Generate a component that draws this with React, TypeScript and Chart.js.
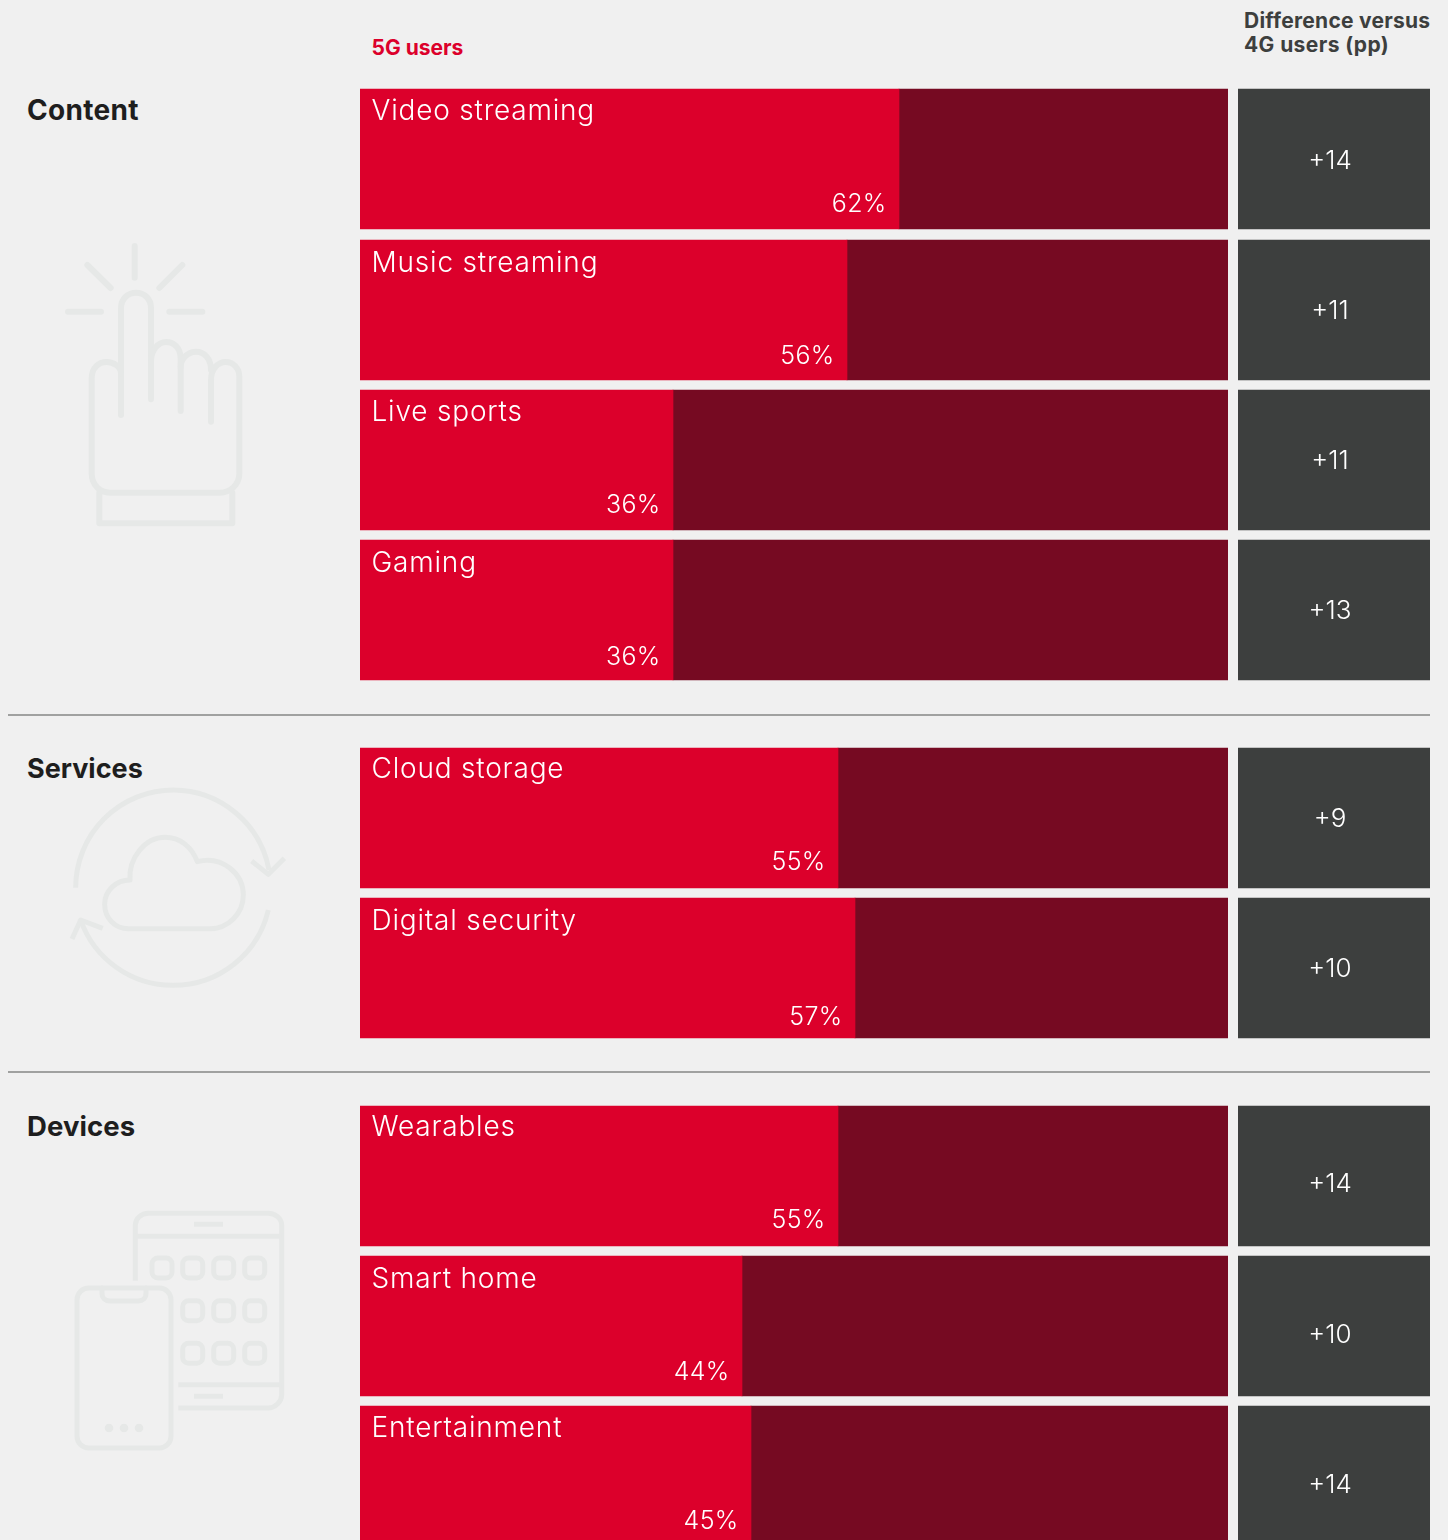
import React, { useEffect, useRef } from "react";
import { Chart, registerables } from "chart.js";

Chart.register(...registerables);

const contentCategories = ["Video streaming", "Music streaming", "Live sports", "Gaming"];
const contentShare = [62, 56, 36, 36];
const contentDiff = [14, 11, 11, 13];

const servicesCategories = ["Cloud storage", "Digital security"];
const servicesShare = [55, 57];
const servicesDiff = [9, 10];

const devicesCategories = ["Wearables", "Smart home", "Entertainment"];
const devicesShare = [55, 44, 45];
const devicesDiff = [14, 10, 14];

const RED = "#dc002b";
const DARK = "#760a22";
const GREY = "#3d3f3e";
const ICON = "#e6e8e7";
const BG = "#f0f0f0";
const FONT = "Inter, sans-serif";

// Small per-row text offsets (label styling only)
const contentNudge = { name: [0, 1, 0, 1], pct: [0, 1, 0, 2], diff: [0, -1, -1, -1] };
const servicesNudge = { name: [-1, 1], pct: [-1, 4], diff: [-1, -1] };
const devicesNudge = { name: [-1, 1, 0], pct: [-1, 1, 0], diff: [6, 7, 7] };

const snapBars = {
  id: "snapBars",
  afterDatasetsUpdate(chart: any) {
    chart.data.datasets.forEach((_: any, d: number) => {
      chart.getDatasetMeta(d).data.forEach((bar: any) => {
        bar.x = Math.round(bar.x);
        bar.base = Math.round(bar.base);
        bar.y = Math.round(bar.y);
      });
    });
  },
};

const shareLabels = {
  id: "shareLabels",
  afterDatasetsDraw(chart: any) {
    const { ctx } = chart;
    const nudge = chart.options.plugins.shareLabels.nudge;
    const bars = chart.getDatasetMeta(0).data;
    ctx.save();
    ctx.fillStyle = "#ffffff";
    bars.forEach((bar: any, i: number) => {
      const top = bar.y - 70;
      ctx.textAlign = "left";
      ctx.font = `300 28px ${FONT}`;
      (ctx as any).letterSpacing = "0.8px";
      ctx.fillText(chart.data.labels[i], 11.5, top + 31 + nudge.name[i]);
      ctx.textAlign = "right";
      ctx.font = `300 25px ${FONT}`;
      (ctx as any).letterSpacing = "0.3px";
      ctx.fillText(`${chart.data.datasets[0].data[i]}%`, bar.x - 12.5, top + 123 + nudge.pct[i]);
    });
    ctx.restore();
  },
};

const diffLabels = {
  id: "diffLabels",
  afterDatasetsDraw(chart: any) {
    const { ctx } = chart;
    const bars = chart.getDatasetMeta(0).data;
    const { values, nudge } = chart.options.plugins.diffLabels;
    ctx.save();
    ctx.fillStyle = "#ffffff";
    ctx.textAlign = "center";
    ctx.font = `300 26px ${FONT}`;
    bars.forEach((bar: any, i: number) => {
      ctx.fillText(`+${values[i]}`, bar.x / 2 - 4, bar.y + 10 + nudge[i]);
    });
    ctx.restore();
  },
};

function baseOptions(max: number, padTop: number, padBottom: number): any {
  return {
    indexAxis: "y",
    animation: false,
    responsive: false,
    maintainAspectRatio: false,
    layout: { padding: { top: padTop, bottom: padBottom, left: 0, right: 0 } },
    plugins: { legend: { display: false }, tooltip: { enabled: false } },
    scales: {
      x: { display: false, stacked: true, min: 0, max, grid: { display: false } },
      y: { display: false, stacked: true, grid: { display: false } },
    },
  };
}

function Section({ top, height, padTop = 0, padBottom = 0, categories, share, diff, nudge }: any) {
  const barRef = useRef<HTMLCanvasElement>(null);
  const diffRef = useRef<HTMLCanvasElement>(null);
  useEffect(() => {
    const optionsA = baseOptions(99.9, padTop, padBottom);
    optionsA.plugins.shareLabels = { nudge };
    const a = new Chart(barRef.current!, {
      type: "bar",
      data: {
        labels: categories,
        datasets: [
          { label: "5G users", data: share, backgroundColor: RED, barThickness: 140, borderWidth: 0 },
          {
            label: "Remainder",
            data: share.map((v: number) => 100 - v),
            backgroundColor: DARK,
            barThickness: 140,
            borderWidth: 0,
          },
        ],
      },
      options: optionsA,
      plugins: [snapBars, shareLabels],
    } as any);
    const optionsB = baseOptions(1, padTop, padBottom);
    optionsB.plugins.diffLabels = { values: diff, nudge: nudge.diff };
    const b = new Chart(diffRef.current!, {
      type: "bar",
      data: {
        labels: categories,
        datasets: [
          {
            label: "Difference versus 4G users (pp)",
            data: categories.map(() => 1),
            backgroundColor: GREY,
            barThickness: 140,
            borderWidth: 0,
          },
        ],
      },
      options: optionsB,
      plugins: [snapBars, diffLabels],
    } as any);
    return () => {
      a.destroy();
      b.destroy();
    };
  }, []);
  return (
    <>
      <canvas ref={barRef} width={868} height={height} style={{ position: "absolute", left: 360, top, width: 868, height }} />
      <canvas ref={diffRef} width={192} height={height} style={{ position: "absolute", left: 1238, top, width: 192, height }} />
    </>
  );
}

const text = (left: number, top: number, size: number, color: string, spacing = 0): React.CSSProperties => ({
  position: "absolute",
  left,
  top,
  fontFamily: FONT,
  fontSize: size,
  fontWeight: 700,
  letterSpacing: spacing,
  color,
  lineHeight: `${size + 3}px`,
  whiteSpace: "nowrap",
});

const rule = (top: number): React.CSSProperties => ({
  position: "absolute",
  left: 8,
  top,
  width: 1422,
  height: 1.5,
  background: "#a0a1a0",
});

function Svg({ left, top, w, h, sw, children }: any) {
  return (
    <svg
      style={{ position: "absolute", left, top }}
      width={w}
      height={h}
      viewBox={`0 0 ${w * 3} ${h * 3}`}
      fill="none"
      stroke={ICON}
      strokeWidth={sw}
      strokeLinecap="round"
      strokeLinejoin="round"
    >
      {children}
    </svg>
  );
}

function HandIcon() {
  return (
    <Svg left={50} top={230} w={210} h={310} sw={18}>
      <path d="M254,48V143M112,105L182,174M397,105L328,174M54,245H153M358,245H457" />
      <path d="M213,555V235C213,205 235,188 258,188C282,188 303,205 303,235V508" />
      <path d="M213,430C213,410 190,396 170,396C145,396 125,415 125,445V730C125,765 150,788 180,788H510C540,788 568,765 568,730V440C568,415 550,396 527,396C505,396 483,415 483,450V575" />
      <path d="M303,395C303,360 325,336 348,336C372,336 392,355 392,385V543" />
      <path d="M392,410C392,385 415,365 438,365C462,365 483,385 483,420" />
      <path d="M148,788V880H547V788" />
    </Svg>
  );
}

function CloudIcon() {
  return (
    <Svg left={50} top={775} w={250} h={225} sw={15}>
      <g strokeLinecap="butt">
        <path d="M77,338A293,293 0 0 1 370,45A293,293 0 0 1 657,285" />
        <path d="M605,258L655,298L703,250" />
        <path d="M655,405A293,293 0 0 1 370,631A293,293 0 0 1 92,435" />
        <path d="M66,492L92,435L158,460" />
      </g>
      <path d="M240,315C235,250 285,187 345,187C390,187 425,215 442,260C515,240 580,295 580,360C580,415 535,461 480,461H235C195,461 164,430 164,388C164,345 200,315 240,315Z" />
    </Svg>
  );
}

const tabletColumns = [276, 368, 461, 554];
const tabletRows = [174, 302, 430];

function DevicesIcon() {
  return (
    <Svg left={60} top={1200} w={240} h={260} sw={15}>
      <g strokeLinecap="butt">
        <path d="M226,242V75C226,55 245,40 265,40H625C645,40 665,55 665,75V585C665,605 645,624 625,624H355" />
        <path d="M226,109H665M355,554H665" />
        <path d="M402,73H489M402,589H489" />
      </g>
      {tabletRows.map((y, r) =>
        tabletColumns.map((x, c) =>
          r > 0 && c === 0 ? null : <rect key={`${r}-${c}`} x={x} y={y} width={60} height={60} rx={18} />
        )
      )}
      <rect x={51} y={264} width={282} height={480} rx={35} />
      <path d="M126,264V280C126,295 138,303 150,303H235C248,303 258,295 258,280V264" />
      <g fill={ICON} stroke="none">
        <circle cx={147} cy={684} r={13} />
        <circle cx={192} cy={684} r={13} />
        <circle cx={237} cy={684} r={13} />
      </g>
    </Svg>
  );
}

export default function App() {
  return (
    <div style={{ position: "fixed", left: 0, top: 0, width: 1448, height: 1540, overflow: "hidden", background: BG }}>
      <div style={text(371.5, 35.5, 21, RED)}>5G users</div>
      <div style={text(1244, 8.5, 21, GREY, 0.25)}>Difference versus</div>
      <div style={text(1244, 32.5, 21, GREY, 0.4)}>4G users (pp)</div>

      <div style={text(27, 95, 28, "#1e1e1e", 0.3)}>Content</div>
      <div style={text(27, 754, 27, "#1e1e1e")}>Services</div>
      <div style={text(27, 1110.5, 27.5, "#1e1e1e", 0.1)}>Devices</div>

      <HandIcon />
      <CloudIcon />
      <DevicesIcon />

      <Section top={84} height={602} padTop={0.2} padBottom={0.8} categories={contentCategories} share={contentShare} diff={contentDiff} nudge={contentNudge} />
      <div style={rule(714)} />
      <Section top={743} height={300} categories={servicesCategories} share={servicesShare} diff={servicesDiff} nudge={servicesNudge} />
      <div style={rule(1071)} />
      <Section top={1101} height={450} categories={devicesCategories} share={devicesShare} diff={devicesDiff} nudge={devicesNudge} />
    </div>
  );
}
